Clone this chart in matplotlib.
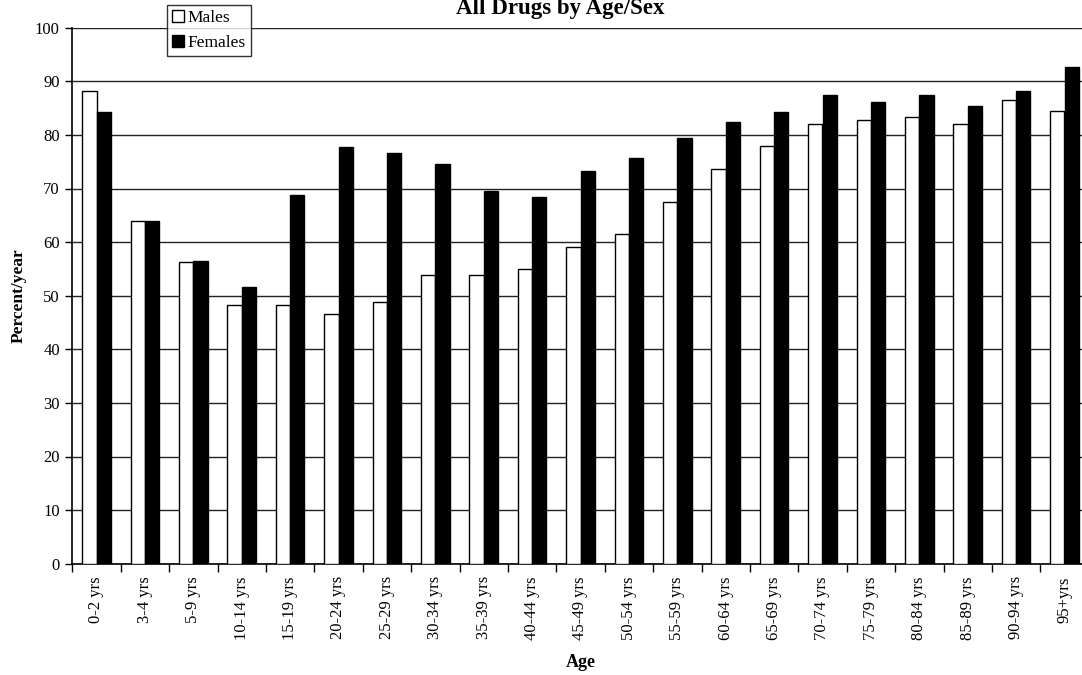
import numpy as np
import matplotlib.pyplot as plt

plt.rcParams['font.family'] = ['Liberation Serif', 'DejaVu Serif']

ages = ["0-2 yrs", "3-4 yrs", "5-9 yrs", "10-14 yrs", "15-19 yrs", "20-24 yrs",
        "25-29 yrs", "30-34 yrs", "35-39 yrs", "40-44 yrs", "45-49 yrs", "50-54 yrs",
        "55-59 yrs", "60-64 yrs", "65-69 yrs", "70-74 yrs", "75-79 yrs", "80-84 yrs",
        "85-89 yrs", "90-94 yrs", "95+yrs"]
males = [88.2, 64.0, 56.3, 48.2, 48.3, 46.5, 48.9, 53.9, 53.8, 54.9, 59.1,
         61.6, 67.4, 73.6, 78.0, 82.1, 82.8, 83.4, 82.1, 86.6, 84.4]
females = [84.2, 63.9, 56.5, 51.7, 68.7, 77.8, 76.7, 74.6, 69.5, 68.5, 73.3,
           75.7, 79.5, 82.5, 84.2, 87.4, 86.2, 87.4, 85.3, 88.1, 92.6]

W, H = 1082, 675
fig = plt.figure(figsize=(W / 100, H / 100), dpi=100)
ax = fig.add_axes([72.3 / W, 1 - 563.7 / H, 1016.4 / W, (563.7 - 27.7) / H])

x = np.arange(len(ages))
bw = 0.295
ax.bar(x - bw / 2, males, bw, color='white', edgecolor='black', linewidth=1.0,
       label='Males', zorder=3)
ax.bar(x + bw / 2, females, bw, color='black', edgecolor='black', linewidth=1.0,
       label='Females', zorder=3)

ax.set_xlim(-0.5, len(ages) - 0.5)
ax.set_ylim(0, 100)
ax.set_yticks(np.arange(0, 101, 10))
ax.yaxis.grid(True, color='#222222', linewidth=1.0, zorder=0)
ax.set_axisbelow(True)

# ticks at category boundaries, labels at the centres
ax.set_xticks(np.arange(-0.5, len(ages), 1.0))
ax.set_xticklabels([])
ax.set_xticks(x, minor=True)
ax.set_xticklabels(ages, minor=True, rotation=90, fontsize=12)
ax.tick_params(axis='x', which='minor', length=0, pad=9)
ax.tick_params(axis='x', which='major', length=6, width=1, direction='out')
ax.tick_params(axis='y', length=5, width=1, direction='out', labelsize=12, pad=4)

for s in ['top', 'right']:
    ax.spines[s].set_visible(False)
ax.spines['left'].set_linewidth(1.2)
ax.spines['bottom'].set_linewidth(1.2)

ax.set_xlabel("Age", fontweight='bold', fontsize=13, labelpad=10)
ax.set_ylabel("Percent/year", fontweight='bold', fontsize=12.5, labelpad=6)
fig.text(560 / W, 1 - 14 / H, "All Drugs by Age/Sex", ha='center', va='baseline',
         fontweight='bold', fontsize=16.5)

leg = fig.legend(loc='upper left', bbox_to_anchor=(167 / W, 1 - 5 / H),
                 fontsize=12.5, frameon=True, fancybox=False, handlelength=0.7,
                 handleheight=0.7, handletextpad=0.2, borderpad=0.3,
                 labelspacing=0.5, borderaxespad=0)
leg.get_frame().set_edgecolor('black')
leg.get_frame().set_linewidth(1.0)

fig.savefig("out.png", dpi=100)
